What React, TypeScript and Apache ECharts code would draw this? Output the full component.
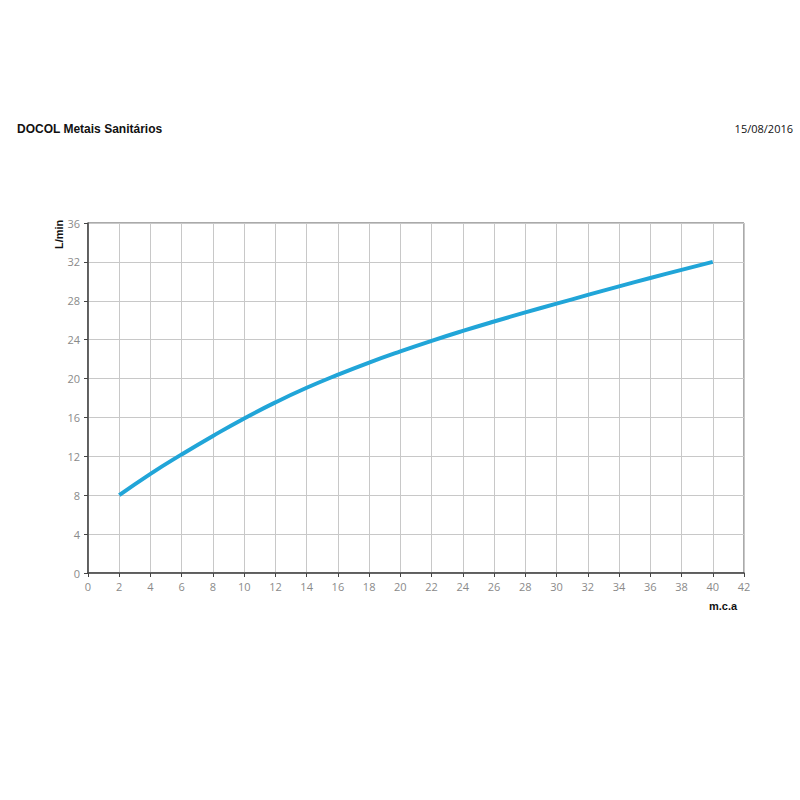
import React, { useEffect, useRef } from "react";
import * as echarts from "echarts";

const pressure = [2, 4, 6, 8, 10, 12, 14, 16, 18, 20, 22, 24, 26, 28, 30, 32, 34, 36, 38, 40];
const flow = [8, 10.2, 12.2, 14.1, 15.9, 17.55, 19.05, 20.4, 21.65, 22.8, 23.88, 24.9, 25.87, 26.8, 27.7, 28.6, 29.48, 30.34, 31.18, 32];
const titleText = "DOCOL Metais Sanitários";
const dateText = "15/08/2016";
const yName = "L/min";
const xName = "m.c.a";

export default function App() {
  const ref = useRef<HTMLDivElement>(null);
  useEffect(() => {
    if (!ref.current) return;
    const chart = echarts.init(ref.current, null, { renderer: "svg" });
    const labelStyle = { color: "#8a8a8a", fontSize: 11, fontFamily: "Open Sans" };
    chart.setOption({
      animation: false,
      backgroundColor: "#ffffff",
      grid: {
        left: 88,
        top: 223,
        right: 56,
        bottom: 227,
        show: true,
        borderColor: "#555555",
        borderWidth: 1,
      },
      xAxis: {
        type: "value",
        min: 0,
        max: 42,
        interval: 2,
        axisLine: { show: true, lineStyle: { color: "#444444", width: 1.5 } },
        axisTick: { show: true, length: 4, lineStyle: { color: "#444444" } },
        axisLabel: { ...labelStyle, margin: 8 },
        splitLine: { show: true, lineStyle: { color: "#c8c8c8", width: 1 } },
      },
      yAxis: {
        type: "value",
        min: 0,
        max: 36,
        interval: 4,
        axisLine: { show: true, lineStyle: { color: "#444444", width: 1.5 } },
        axisTick: { show: true, length: 4, lineStyle: { color: "#444444" } },
        axisLabel: { ...labelStyle, margin: 8 },
        splitLine: { show: true, lineStyle: { color: "#c8c8c8", width: 1 } },
      },
      series: [
        {
          type: "line",
          data: pressure.map((p, i) => [p, flow[i]]),
          smooth: 0.5,
          showSymbol: false,
          lineStyle: { color: "#21a5d8", width: 4 },
          z: 5,
        },
      ],
      graphic: [
        {
          type: "text",
          left: 17,
          top: 123,
          style: {
            text: titleText,
            font: "bold 12px 'Liberation Sans'",
            fill: "#111111",
          },
        },
        {
          type: "text",
          right: 7,
          top: 123,
          style: {
            text: dateText,
            font: "11px 'Open Sans'",
            fill: "#111111",
          },
        },
        {
          type: "text",
          x: 53,
          y: 249,
          rotation: Math.PI / 2,
          style: {
            text: yName,
            font: "bold 11px 'Liberation Sans'",
            fill: "#111111",
            align: "left",
            verticalAlign: "top",
          },
        },
        {
          type: "text",
          x: 709,
          y: 600,
          style: {
            text: xName,
            font: "bold 11px 'Liberation Sans'",
            fill: "#111111",
          },
        },
      ],
    });
    return () => chart.dispose();
  }, []);
  return (
    <div
      ref={ref}
      style={{ position: "absolute", left: 0, top: 0, width: 800, height: 800, background: "#fff" }}
    />
  );
}
